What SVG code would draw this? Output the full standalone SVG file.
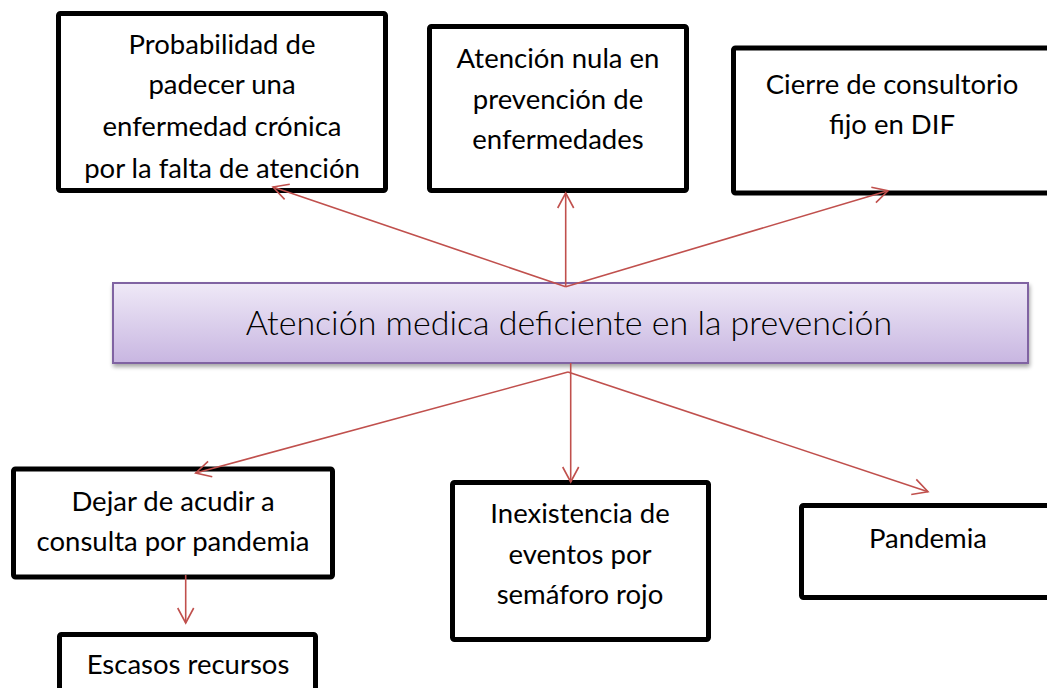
<svg xmlns="http://www.w3.org/2000/svg" width="1047" height="688" viewBox="0 0 1047 688">
<defs>
<linearGradient id="pg" x1="0" y1="0" x2="0" y2="1">
<stop offset="0" stop-color="#efe9f7"/>
<stop offset="1" stop-color="#c8b6e1"/>
</linearGradient>
<filter id="sh" x="-5%" y="-20%" width="110%" height="150%">
<feGaussianBlur in="SourceAlpha" stdDeviation="2"/>
<feOffset dx="1" dy="3" result="b"/>
<feComponentTransfer><feFuncA type="linear" slope="0.35"/></feComponentTransfer>
<feMerge><feMergeNode/><feMergeNode in="SourceGraphic"/></feMerge>
</filter>
<marker id="ah" markerUnits="userSpaceOnUse" markerWidth="20" markerHeight="20" refX="15" refY="8" orient="auto" overflow="visible">
<path d="M0,0 L15,8 L0,16" fill="none" stroke="#c0504d" stroke-width="1.6"/>
</marker>
<style>
.box{fill:#fff;stroke:#000;stroke-width:5;}
.t{font-family:Lato,"Open Sans","Liberation Sans",sans-serif;font-size:27.5px;fill:#000;text-anchor:middle;}
.main{font-family:Lato,"Open Sans","Liberation Sans",sans-serif;font-weight:300;font-size:34px;fill:#000;text-anchor:middle;}
.c{fill:none;stroke:#c0504d;stroke-width:1.6;marker-end:url(#ah);}
</style>
</defs>
<rect width="1047" height="688" fill="#fff"/>

<g id="n1">
<rect class="box" x="58.5" y="13.5" width="327" height="177" rx="2"/>
<text class="t" x="222" y="54">Probabilidad de</text>
<text class="t" x="222" y="94">padecer una</text>
<text class="t" x="222" y="136">enfermedad crónica</text>
<text class="t" x="222" y="178">por la falta de atención</text>
</g>
<g id="n2">
<rect class="box" x="429.5" y="26.5" width="257" height="164" rx="2"/>
<text class="t" x="558" y="68">Atención nula en</text>
<text class="t" x="558" y="109">prevención de</text>
<text class="t" x="558" y="149">enfermedades</text>
</g>
<g id="n3">
<rect class="box" x="733.5" y="48" width="400" height="145" rx="2"/>
<text class="t" x="892" y="94">Cierre de consultorio</text>
<text class="t" x="892" y="134">fijo en DIF</text>
</g>
<g id="center">
<rect x="113" y="283" width="915" height="80" fill="url(#pg)" stroke="#8064a2" stroke-width="2" filter="url(#sh)"/>
<text class="main" x="569" y="335">Atención medica deficiente en la prevención</text>
</g>
<g id="n4">
<rect class="box" x="13.5" y="469" width="319" height="108" rx="2"/>
<text class="t" x="173" y="511">Dejar de acudir a</text>
<text class="t" x="173" y="551">consulta por pandemia</text>
</g>
<g id="n5">
<rect class="box" x="452.5" y="482.5" width="256" height="157" rx="2"/>
<text class="t" x="580" y="523">Inexistencia de</text>
<text class="t" x="580" y="564">eventos por</text>
<text class="t" x="580" y="604">semáforo rojo</text>
</g>
<g id="n6">
<rect class="box" x="801.5" y="505.5" width="300" height="92" rx="2"/>
<text class="t" x="928" y="548">Pandemia</text>
</g>
<g id="n7">
<rect class="box" x="59.5" y="634.5" width="256" height="100" rx="2"/>
<text class="t" x="188" y="674">Escasos recursos</text>
</g>

<g id="connectors">
<line class="c" x1="565.7" y1="286.7" x2="273" y2="187"/>
<line class="c" x1="565.7" y1="286.7" x2="565.7" y2="193"/>
<line class="c" x1="565.7" y1="286.7" x2="888" y2="190.7"/>
<line class="c" x1="568" y1="372" x2="195.7" y2="473"/>
<line class="c" x1="570.7" y1="363" x2="570.7" y2="482"/>
<line class="c" x1="568" y1="372" x2="928" y2="491.7"/>
<line class="c" x1="185.7" y1="575" x2="185.7" y2="623"/>
</g>
</svg>
